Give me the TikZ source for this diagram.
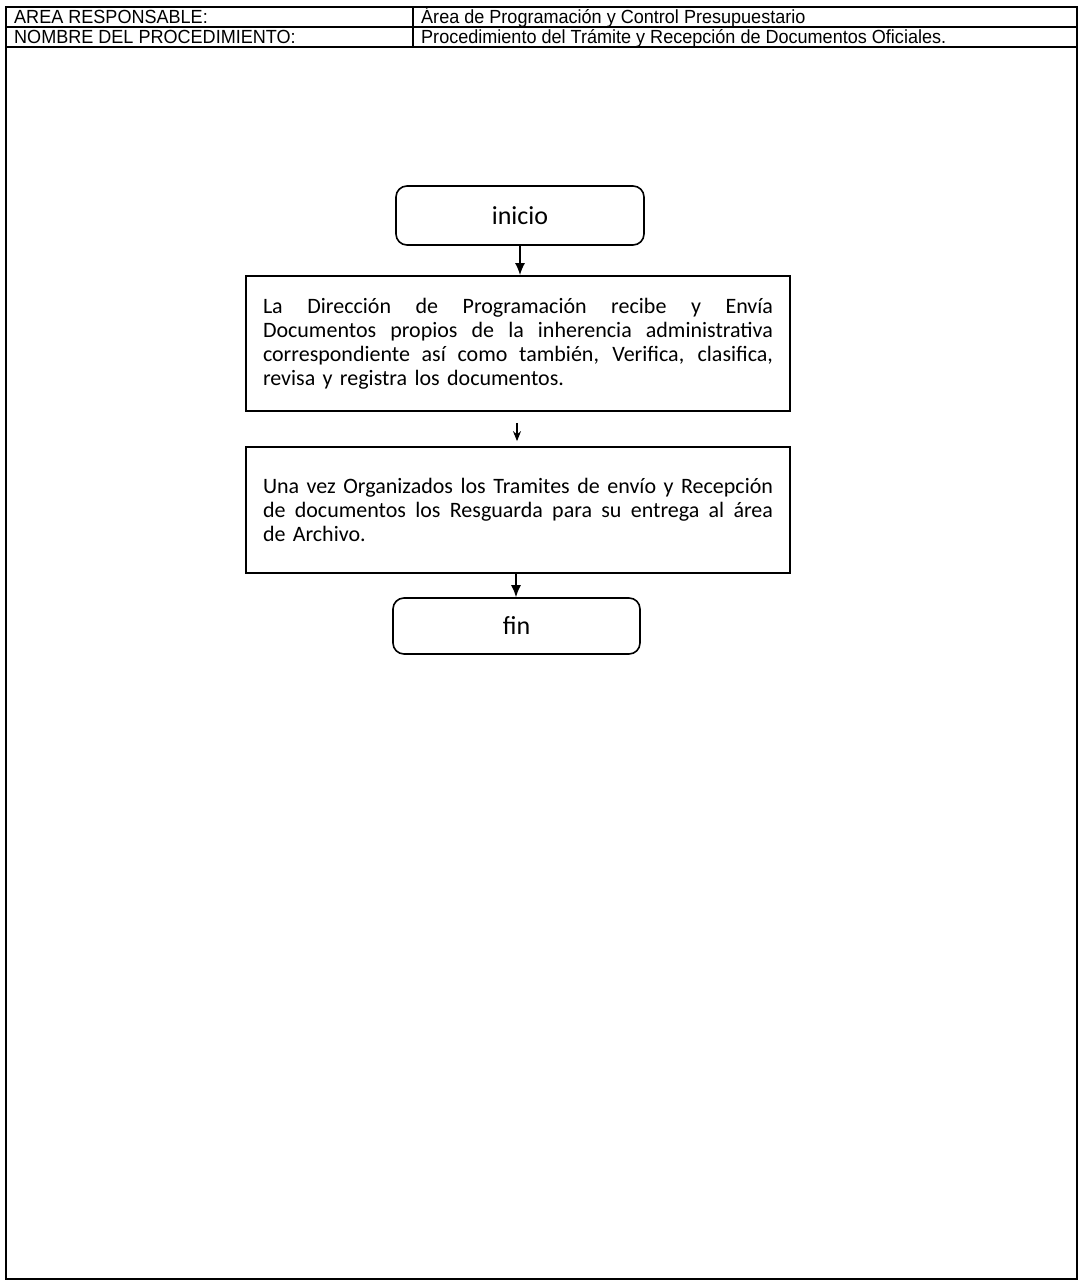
\documentclass[tikz,border=0pt]{standalone}
\usepackage{fontspec}
\setmainfont{Carlito}
\newfontfamily\headfont[FakeStretch=0.95]{Liberation Sans}
\usetikzlibrary{arrows.meta}
% one fully justified line of a process box (word spaces may stretch)
\newcommand\jline[1]{\hbox to 510pt{\spaceskip=0pt\xspaceskip=0pt\relax #1}}
\begin{document}
\begin{tikzpicture}[x=1pt,y=-1pt,
  frame/.style={draw=black,line width=1.3pt},
  headtxt/.style={anchor=base west,inner sep=0pt,font=\headfont\fontsize{19}{22}\selectfont},
  terminal/.style={draw=black,line width=1.6pt,rounded corners=11pt,
    minimum width=248pt,inner sep=0pt,font=\fontsize{26}{30}\selectfont},
  process/.style={draw=black,line width=1.8pt,minimum width=544pt,inner sep=0pt,
    text width=510pt,align=left,font=\fontsize{22}{24}\selectfont},
  flow/.style={line width=1.4pt,-{Latex[length=12pt,width=10pt]}},
  flowthin/.style={line width=1.1pt,-{Stealth[length=10pt,width=8pt]}}]
\useasboundingbox (0,0) rectangle (1083,1285);
\fill[white] (0,0) rectangle (1083,1285);

% page frame and header table
\draw[frame] (6,7) rectangle (1077,1279);
\draw[frame] (6,27) -- (1077,27);
\draw[frame] (6,47) -- (1077,47);
\draw[frame] (413,7) -- (413,47);
\node[headtxt] (h1) at (14,23.5) {AREA RESPONSABLE:};
\node[headtxt] (h2) at (421,23.5) {Área de Programación y Control Presupuestario};
\node[headtxt] (h3) at (14,43.5) {NOMBRE DEL PROCEDIMIENTO:};
\node[headtxt] (h4) at (421,43.5) {Procedimiento del Trámite y Recepción de Documentos Oficiales.};

% flow chart
\node[terminal,minimum height=59pt] (inicio) at (520,215.5) {inicio};
\node[process,minimum height=135pt] (p1) at (518,343.5) {%
\jline{La Dirección de Programación recibe y Envía}
\jline{Documentos propios de la inherencia administrativa}
\jline{correspondiente así como también, Verifica, clasifica,}
revisa y registra los documentos.};
\node[process,minimum height=126pt] (p2) at (518,510) {%
\jline{Una vez Organizados los Tramites de envío y Recepción}
\jline{de documentos los Resguarda para su entrega al área}
de Archivo.};
\node[terminal,minimum width=247pt,minimum height=56pt] (fin) at (516.5,626) {fin};

\draw[flow] (inicio.south) -- (inicio.south |- p1.north);
\draw[flowthin,shorten <=11pt,shorten >=5pt] ([xshift=-1pt]p1.south) -- ([xshift=-1pt]p1.south |- p2.north);
\draw[flow] ([xshift=-2pt]p2.south) -- ([xshift=-2pt]p2.south |- fin.north);
\end{tikzpicture}
\end{document}
